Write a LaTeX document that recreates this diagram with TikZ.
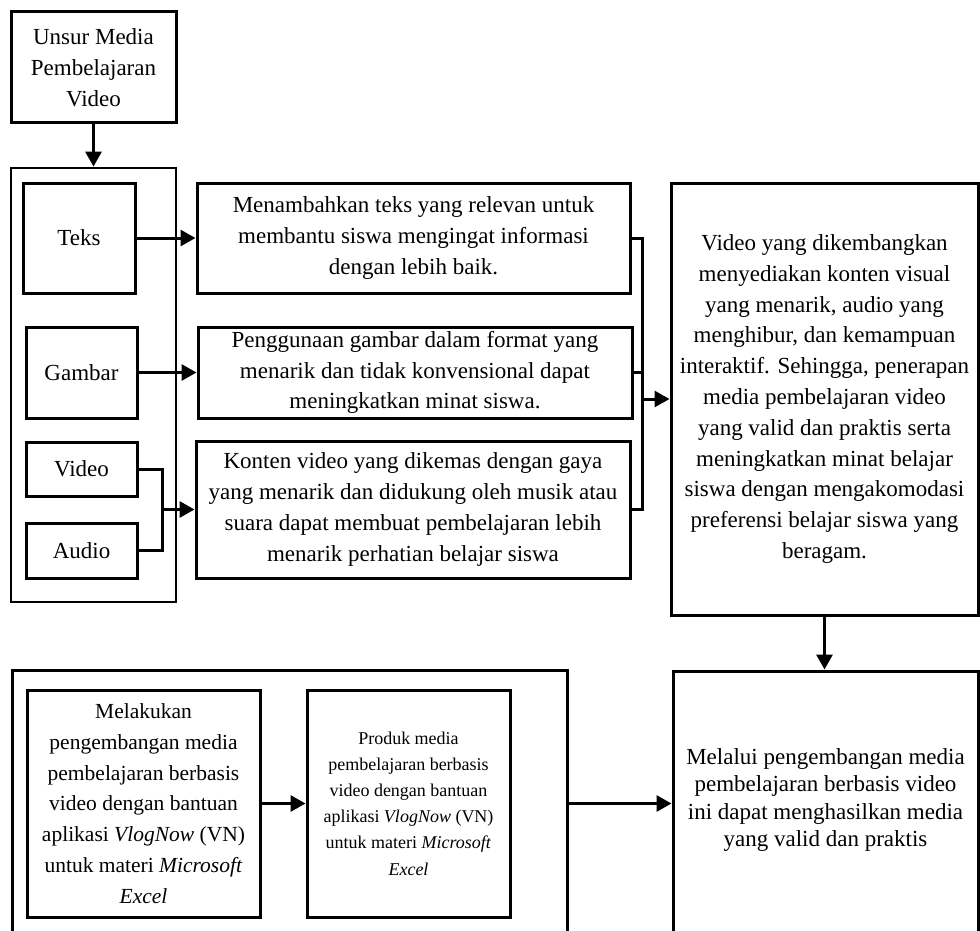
\documentclass[tikz,border=0pt]{standalone}
\usepackage{fontspec}
\setmainfont{Liberation Serif}
\usetikzlibrary{arrows.meta,calc}
\begin{document}
\begin{tikzpicture}[x=1pt,y=-1pt,
  box/.style={draw,line width=3pt,inner sep=0pt,align=center,font=\fontsize{23}{30.8}\selectfont},
  frbox/.style={draw,line width=2.8pt,inner sep=0pt},
  conn/.style={line width=3pt},
  arr/.style={conn,-{Triangle[length=15pt,width=16pt]}}]
\clip (0,0) rectangle (980,931);
% top
\node[box,minimum width=165,minimum height=111] (U) at (93.5,67.5) {Unsur Media\\Pembelajaran\\Video};
\node[frbox,line width=2.8pt,minimum width=165,minimum height=434] (L) at (93.5,385) {};
\node[box,minimum width=112,minimum height=110] (T) at (79,238) {Teks};
\node[box,minimum width=111,minimum height=91] (G) at (81.5,372.5) {Gambar};
\node[box,minimum width=111,minimum height=54] (V) at (81.5,469) {Video};
\node[box,minimum width=111,minimum height=55] (A) at (81.5,550.5) {Audio};
% middle text boxes
\node[box,minimum width=433,minimum height=110] (B1) at (413.5,238) {Menambahkan teks yang relevan untuk\\membantu siswa mengingat informasi\\dengan lebih baik.};
\node[box,minimum width=434,minimum height=91] (B2) at (415,372.5) {Penggunaan gambar dalam format yang\\menarik dan tidak konvensional dapat\\meningkatkan minat siswa.};
\node[box,minimum width=434,minimum height=137] (B3) at (413,509.5) {Konten video yang dikemas dengan gaya\\yang menarik dan didukung oleh musik atau\\suara dapat membuat pembelajaran lebih\\menarik perhatian belajar siswa};
% right box
\node[box,minimum width=307,minimum height=432] (R) at (824.5,399) {Video yang dikembangkan\\menyediakan konten visual\\yang menarik, audio yang\\menghibur, dan kemampuan\\interaktif. Sehingga, penerapan\\media pembelajaran video\\yang valid dan praktis serta\\meningkatkan minat belajar\\siswa dengan mengakomodasi\\preferensi belajar siswa yang\\beragam.};
% bottom
\node[frbox,line width=3pt,minimum width=555,minimum height=291] (BO) at (289.5,815.5) {};
\node[box,minimum width=233,minimum height=227,font=\fontsize{21.5}{30.8}\selectfont] (I1) at (143.5,803.5) {Melakukan\\pengembangan media\\pembelajaran berbasis\\video dengan bantuan\\aplikasi \textit{VlogNow} (VN)\\untuk materi \textit{Microsoft}\\\textit{Excel}};
\node[box,minimum width=203,minimum height=227,font=\fontsize{18}{26.2}\selectfont] (I2) at (408.5,803.5) {Produk media\\pembelajaran berbasis\\video dengan bantuan\\aplikasi \textit{VlogNow} (VN)\\untuk materi \textit{Microsoft}\\\textit{Excel}};
\node[box,minimum width=305,minimum height=300] (BR) at (825.5,821) {};
\node[align=center,inner sep=0pt,font=\fontsize{23}{27.6}\selectfont] (BRt) at (825.5,800) {Melalui pengembangan media\\pembelajaran berbasis video\\ini dapat menghasilkan media\\yang valid dan praktis};
% connectors
\draw[arr] (U.south) -- (L.north);
\draw[arr] (T.east) -- (B1.west);
\draw[arr] (G.east) -- (B2.west);
\coordinate (J) at (162,509.5);
\draw[conn] (V.east) -- (V.east -| J) -- (A.east -| J) -- (A.east);
\draw[arr] (J) -- (B3.west);
\coordinate (K) at (642,399);
\draw[conn] (B1.east) -- (B1.east -| K) -- (B3.east -| K) -- (B3.east);
\draw[conn] (B2.east) -- (B2.east -| K);
\draw[arr] (K) -- (R.west);
\draw[arr] (R.south) -- (R.south |- BR.north);
\draw[arr] (I1.east) -- (I2.west);
\draw[arr] (BO.east |- I1.east) -- (BR.west |- I1.east);
\end{tikzpicture}
\end{document}
